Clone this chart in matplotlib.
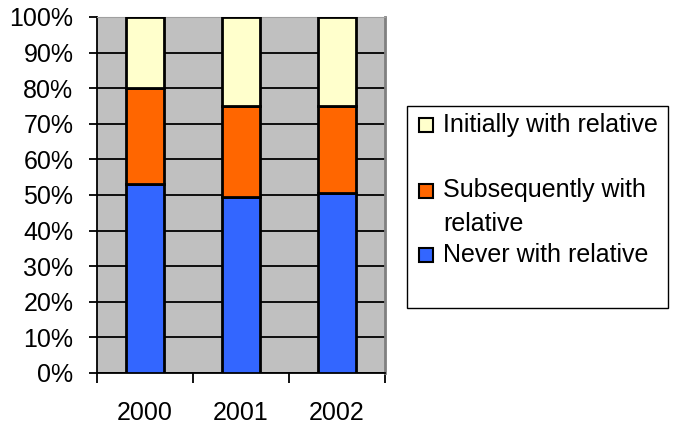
import numpy as np
import matplotlib
matplotlib.use("Agg")
import matplotlib.pyplot as plt
from matplotlib.patches import Rectangle

# donnees (pourcentages)
annees = ["2000", "2001", "2002"]
never = [53.0, 49.5, 50.5]
subsequently = [27.0, 25.5, 24.5]
initially = [20.0, 25.0, 25.0]

series = ["Never with relative", "Subsequently with\nrelative", "Initially with relative"]
couleurs = ["#3366FF", "#FF6600", "#FFFFCC"]

plt.rcParams['font.family'] = ['Liberation Sans', 'DejaVu Sans']

W, H = 674, 426
fig = plt.figure(figsize=(W / 100, H / 100), dpi=100)
# zone du graphique en pixels : x 97-385, y 17-373
ax = fig.add_axes([97 / W, (H - 373) / H, 288 / W, 356 / H])
ax.set_facecolor("#C0C0C0")

x = np.arange(len(annees))
bas = np.zeros(len(annees))
for vals, c in zip([never, subsequently, initially], couleurs):
    ax.bar(x, vals, width=0.4, bottom=bas, color=c, edgecolor="black",
           linewidth=2, zorder=3)
    bas = bas + np.array(vals)

ax.set_xlim(-0.5, 2.5)
ax.set_ylim(0, 100)
ax.set_yticks(np.arange(0, 101, 10))
ax.set_yticklabels([f"{v}%" for v in range(0, 101, 10)], fontsize=18)
ax.yaxis.grid(True, color="black", linewidth=1.3, zorder=1)
ax.tick_params(axis="y", direction="out", length=6, width=1.3, pad=11)

ax.set_xticks(x)
ax.set_xticklabels(annees, fontsize=18)
ax.set_xticks(np.arange(-0.5, 2.6, 1), minor=True)
ax.tick_params(axis="x", which="major", length=0, pad=20)
ax.tick_params(axis="x", which="minor", direction="out", length=7, width=1.3)

ax.spines["left"].set_linewidth(1.3)
ax.spines["bottom"].set_linewidth(1.3)
ax.spines["top"].set_color("#A0A0A0")
ax.spines["right"].set_color("#808080")
ax.spines["right"].set_linewidth(2)

# legende dessinee a la main (espacement irregulier comme l'original)
fig.patches.append(Rectangle((407 / W, (H - 308) / H), 261 / W, 202 / H,
                             transform=fig.transFigure, facecolor="white",
                             edgecolor="black", linewidth=1))
pos_y = [255, 191, 125]
for nom, c, py in zip(series, couleurs, pos_y):
    fig.patches.append(Rectangle((419 / W, (H - py - 7) / H), 14 / W, 14 / H,
                                 transform=fig.transFigure, facecolor=c,
                                 edgecolor="black", linewidth=1.5))
    if "\n" in nom:
        fig.text(443 / W, (H - py + 13) / H, nom, fontsize=18, va="top",
                 ha="left", linespacing=1.55)
    else:
        fig.text(443 / W, (H - py) / H, nom, fontsize=18, va="center",
                 ha="left")

fig.savefig("out.png", dpi=100)
